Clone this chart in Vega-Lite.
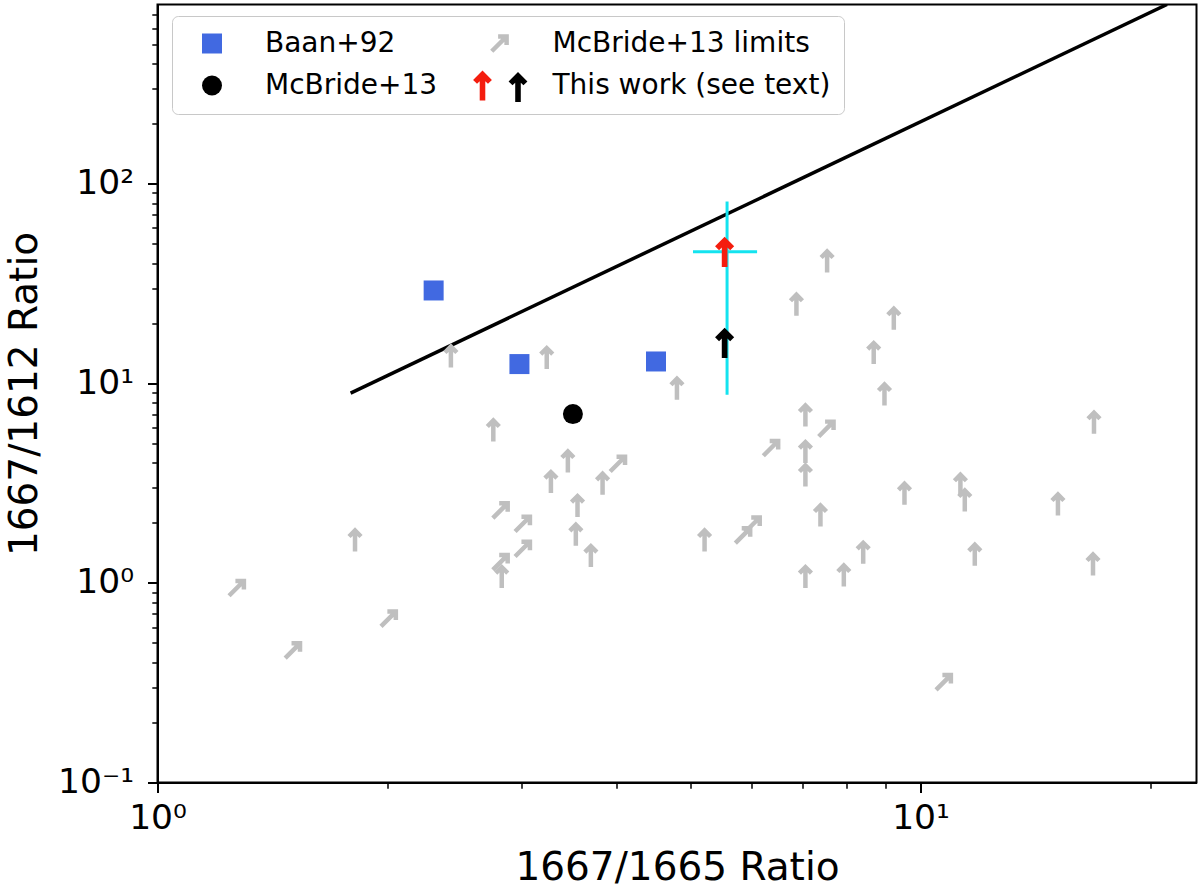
{
  "$schema": "https://vega.github.io/schema/vega-lite/v6.json",
  "width": 1039,
  "height": 778,
  "autosize": {"type": "none"},
  "padding": {"left": 157.5, "top": 4.5, "right": 3.5, "bottom": 107.5},
  "background": "white",
  "config": {"view": {"stroke": "black", "strokeWidth": 2}, "font": "DejaVu Sans"},
  "datasets": {
    "line": [{"x": 1.791, "y": 8.93}, {"x": 21.04, "y": 790}],
    "baan": [{"x": 2.301, "y": 29.17, "series": "Baan+92"}, {"x": 2.981, "y": 12.48, "series": "Baan+92"}, {"x": 4.501, "y": 12.86, "series": "Baan+92"}],
    "mcb": [{"x": 3.503, "y": 7.01, "series": "McBride+13"}],
    "limits": [
      {"x": 2.424, "y": 12.0, "kind": "up"},
      {"x": 3.237, "y": 11.78, "kind": "up"},
      {"x": 4.795, "y": 8.27, "kind": "up"},
      {"x": 2.755, "y": 5.11, "kind": "up"},
      {"x": 3.45, "y": 3.574, "kind": "up"},
      {"x": 3.278, "y": 2.818, "kind": "up"},
      {"x": 3.831, "y": 2.763, "kind": "up"},
      {"x": 3.552, "y": 2.136, "kind": "up"},
      {"x": 3.534, "y": 1.534, "kind": "up"},
      {"x": 3.698, "y": 1.2, "kind": "up"},
      {"x": 2.826, "y": 0.942, "kind": "up"},
      {"x": 1.815, "y": 1.436, "kind": "up"},
      {"x": 5.212, "y": 1.436, "kind": "up"},
      {"x": 7.544, "y": 35.9, "kind": "up"},
      {"x": 6.877, "y": 21.8, "kind": "up"},
      {"x": 9.226, "y": 18.54, "kind": "up"},
      {"x": 8.683, "y": 12.48, "kind": "up"},
      {"x": 8.97, "y": 7.74, "kind": "up"},
      {"x": 7.066, "y": 6.075, "kind": "up"},
      {"x": 7.066, "y": 3.984, "kind": "up"},
      {"x": 7.066, "y": 3.041, "kind": "up"},
      {"x": 7.394, "y": 1.917, "kind": "up"},
      {"x": 9.528, "y": 2.462, "kind": "up"},
      {"x": 11.28, "y": 2.732, "kind": "up"},
      {"x": 11.43, "y": 2.279, "kind": "up"},
      {"x": 16.88, "y": 5.585, "kind": "up"},
      {"x": 15.14, "y": 2.176, "kind": "up"},
      {"x": 8.412, "y": 1.246, "kind": "up"},
      {"x": 11.78, "y": 1.218, "kind": "up"},
      {"x": 7.066, "y": 0.942, "kind": "up"},
      {"x": 7.934, "y": 0.959, "kind": "up"},
      {"x": 16.83, "y": 1.089, "kind": "up"},
      {"x": 1.241, "y": 0.862, "kind": "diag"},
      {"x": 1.47, "y": 0.42, "kind": "diag"},
      {"x": 1.963, "y": 0.605, "kind": "diag"},
      {"x": 2.751, "y": 2.112, "kind": "diag"},
      {"x": 2.942, "y": 1.809, "kind": "diag"},
      {"x": 2.942, "y": 1.356, "kind": "diag"},
      {"x": 2.751, "y": 1.163, "kind": "diag"},
      {"x": 3.92, "y": 3.615, "kind": "diag"},
      {"x": 5.719, "y": 1.582, "kind": "diag"},
      {"x": 5.886, "y": 1.793, "kind": "diag"},
      {"x": 6.223, "y": 4.334, "kind": "diag"},
      {"x": 7.355, "y": 5.414, "kind": "diag"},
      {"x": 10.48, "y": 0.2913, "kind": "diag"}
    ],
    "err_v": [{"x": 5.578, "y": 8.76, "y2": 81.4}],
    "err_h": [{"x": 5.033, "x2": 6.107, "y": 45.6}],
    "thiswork": [
      {"x": 5.537, "y": 38.2, "level": "high"},
      {"x": 5.537, "y": 13.37, "level": "low"}
    ]
  },
  "encoding": {
    "x": {
      "field": "x", "type": "quantitative",
      "scale": {"type": "log", "domain": [1, 23], "nice": false},
      "axis": {
        "values": [1, 2, 3, 4, 5, 6, 7, 8, 9, 10, 20],
        "labelExpr": "datum.value == 1 ? '10⁰' : (datum.value == 10 ? '10¹' : '')",
        "tickSize": {"condition": {"test": "datum.value == 1 || datum.value == 10", "value": 10}, "value": 5.7},
        "tickWidth": {"condition": {"test": "datum.value == 1 || datum.value == 10", "value": 2}, "value": 1.5},
        "tickColor": "black", "domainColor": "black", "domainWidth": 2, "grid": false,
        "labelFont": "DejaVu Sans", "labelFontSize": 34.5, "labelColor": "black", "labelPadding": 9,
        "labelFlush": false, "labelOverlap": false, "labelBound": false,
        "title": "1667/1665 Ratio", "titleFont": "DejaVu Sans", "titleFontSize": 39, "titleFontWeight": "normal",
        "titleColor": "black", "titleY": 97.3, "titleBaseline": "alphabetic"
      }
    },
    "y": {
      "field": "y", "type": "quantitative",
      "scale": {"type": "log", "domain": [0.1, 790], "nice": false},
      "axis": {
        "values": [0.1, 0.2, 0.3, 0.4, 0.5, 0.6, 0.7, 0.8, 0.9, 1, 2, 3, 4, 5, 6, 7, 8, 9, 10, 20, 30, 40, 50, 60, 70, 80, 90, 100, 200, 300, 400, 500, 600, 700],
        "labelExpr": "datum.value == 0.1 ? '10⁻¹' : (datum.value == 1 ? '10⁰' : (datum.value == 10 ? '10¹' : (datum.value == 100 ? '10²' : '')))",
        "tickSize": {"condition": {"test": "datum.value == 0.1 || datum.value == 1 || datum.value == 10 || datum.value == 100", "value": 10}, "value": 5.7},
        "tickWidth": {"condition": {"test": "datum.value == 0.1 || datum.value == 1 || datum.value == 10 || datum.value == 100", "value": 2}, "value": 1.5},
        "tickColor": "black", "domainColor": "black", "domainWidth": 2, "grid": false,
        "labelFont": "DejaVu Sans", "labelFontSize": 34.5, "labelColor": "black", "labelPadding": 14,
        "labelFlush": false, "labelOverlap": false, "labelBound": false,
        "title": "1667/1612 Ratio", "titleFont": "DejaVu Sans", "titleFontSize": 39, "titleFontWeight": "normal",
        "titleColor": "black", "titleX": -121, "titleBaseline": "alphabetic"
      }
    }
  },
  "layer": [
    {
      "data": {"name": "line"},
      "mark": {"type": "line", "color": "black", "strokeWidth": 3.5, "clip": true},
      "encoding": {}
    },
    {
      "data": {"name": "limits"},
      "transform": [{"filter": "datum.kind == 'up'"}],
      "mark": {"type": "point", "shape": "M-0.225,0L-0.225,-1.557L-0.441,-1.341L-0.759,-1.659L0,-2.418L0.759,-1.659L0.441,-1.341L0.225,-1.557L0.225,0Z", "size": 400, "filled": true, "color": "#bfbfbf", "strokeWidth": 0, "opacity": 1}
    },
    {
      "data": {"name": "limits"},
      "transform": [{"filter": "datum.kind == 'diag'"}],
      "mark": {"type": "point", "shape": "M-0.225,0L-0.225,-1.557L-0.441,-1.341L-0.759,-1.659L0,-2.418L0.759,-1.659L0.441,-1.341L0.225,-1.557L0.225,0Z", "angle": 45, "size": 400, "filled": true, "color": "#bfbfbf", "strokeWidth": 0, "opacity": 1}
    },
    {
      "data": {"name": "baan"},
      "mark": {"type": "point", "size": 400, "filled": true, "opacity": 1, "strokeWidth": 0},
      "encoding": {
        "color": {
          "field": "series", "type": "nominal",
          "scale": {"domain": ["Baan+92", "McBride+13", "McBride+13 limits", "This work (see text)"], "range": ["#4169e1", "black", "#bfbfbf", "#f41d0e"]},
          "legend": {
            "title": null, "orient": "none", "legendX": 14.5, "legendY": 11.5,
            "columns": 2, "columnPadding": 35.5, "rowPadding": 13,
            "padding": 13.5, "cornerRadius": 6, "strokeColor": "#c8c8c8",
            "labelFont": "DejaVu Sans", "labelFontSize": 28, "labelColor": "black", "labelLimit": 600, "labelOffset": 39,
            "symbolSize": 400, "symbolStrokeWidth": 0, "symbolOpacity": 1, "symbolOffset": 12.5
          }
        },
        "shape": {
          "field": "series", "type": "nominal",
          "scale": {"domain": ["Baan+92", "McBride+13", "McBride+13 limits", "This work (see text)"], "range": ["square", "circle", "M-0.934,0.616L0.167,-0.485L-0.139,-0.485L-0.139,-0.935L0.935,-0.935L0.935,0.139L0.485,0.139L0.485,-0.167L-0.616,0.934Z", "M-1.979,1.5L-1.979,-0.431L-2.247,-0.163L-2.641,-0.557L-1.7,-1.498L-0.759,-0.557L-1.153,-0.163L-1.421,-0.431L-1.421,1.5Z"]},
          "legend": {
            "title": null, "orient": "none", "legendX": 14.5, "legendY": 11.5,
            "columns": 2, "columnPadding": 35.5, "rowPadding": 13,
            "padding": 13.5, "cornerRadius": 6, "strokeColor": "#c8c8c8",
            "labelFont": "DejaVu Sans", "labelFontSize": 28, "labelColor": "black", "labelLimit": 600, "labelOffset": 39,
            "symbolSize": 400, "symbolStrokeWidth": 0, "symbolOpacity": 1, "symbolOffset": 12.5
          }
        }
      }
    },
    {
      "data": {"name": "mcb"},
      "mark": {"type": "point", "size": 400, "filled": true, "opacity": 1, "strokeWidth": 0},
      "encoding": {
        "color": {"field": "series", "type": "nominal"},
        "shape": {"field": "series", "type": "nominal"}
      }
    },
    {
      "data": {"name": "err_v"},
      "mark": {"type": "rule", "color": "#14e3ef", "strokeWidth": 3},
      "encoding": {"y2": {"field": "y2"}}
    },
    {
      "data": {"name": "err_h"},
      "mark": {"type": "rule", "color": "#14e3ef", "strokeWidth": 3},
      "encoding": {"x2": {"field": "x2"}}
    },
    {
      "data": {"name": "thiswork"},
      "mark": {"type": "point", "shape": "M-0.225,0L-0.225,-1.557L-0.441,-1.341L-0.759,-1.659L0,-2.418L0.759,-1.659L0.441,-1.341L0.225,-1.557L0.225,0Z", "size": 635, "filled": true, "strokeWidth": 0, "opacity": 1},
      "encoding": {
        "fill": {
          "field": "level", "type": "nominal",
          "scale": {"domain": ["high", "low"], "range": ["#f41d0e", "black"]},
          "legend": {
            "values": ["low"], "labelExpr": "''", "title": null, "orient": "none", "legendX": 348, "legendY": 85,
            "padding": 0, "labelFontSize": 10, "symbolSize": 615, "symbolStrokeWidth": 0, "symbolOpacity": 1
          }
        }
      }
    }
  ]
}
